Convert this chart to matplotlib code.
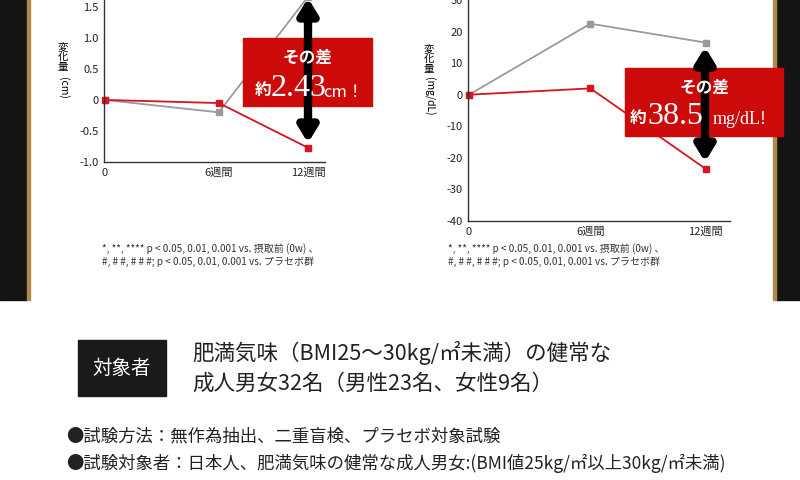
import matplotlib
matplotlib.use("Agg")
import matplotlib.pyplot as plt
from matplotlib.patches import Rectangle

JP = "Noto Sans CJK JP"
SERIF = "Liberation Serif"

# data
cats = ["0", "6週間", "12週間"]
left_x = [0, 6, 10.7]
left_red = [0.0, -0.05, -0.77]
left_gray = [0.0, -0.2, 1.66]
right_x = [0, 6, 11.7]
right_red = [0.0, 2.0, -23.5]
right_gray = [0.0, 22.5, 16.5]
left_yticks = [-1.0, -0.5, 0, 0.5, 1.0, 1.5]
left_yticklabels = ["-1.0", "-0.5", "0", "0.5", "1.0", "1.5"]
right_yticks = [-40, -30, -20, -10, 0, 10, 20, 30]

RED = "#d7141f"
GRAY = "#9a9a9a"
BOXRED = "#cc0a0a"
W, H = 800, 480

fig = plt.figure(figsize=(8, 4.8), dpi=100)

def px_axes(x0, y0, x1, y1, **kw):
    return fig.add_axes([x0 / W, 1 - y1 / H, (x1 - x0) / W, (y1 - y0) / H], **kw)

# background
bg = px_axes(0, 0, W, H)
bg.set_xlim(0, W); bg.set_ylim(H, 0); bg.axis("off")
bg.add_patch(Rectangle((0, 0), 27, 300, color="#141414"))
bg.add_patch(Rectangle((27, 0), 3, 300, color="#b08a4a"))
bg.add_patch(Rectangle((776, 0), 24, 300, color="#141414"))
bg.add_patch(Rectangle((773, 0), 3, 300, color="#b08a4a"))

def chart(x0, x1, ytop, ybot, xs, red, gray, xlim, ylim, yticks, yticklabels):
    ax = px_axes(x0, ytop, x1, ybot)
    ax.set_facecolor("none")
    ax.plot(xs, gray, color=GRAY, marker="s", ms=5, lw=1.3, clip_on=True)
    ax.plot(xs, red, color=RED, marker="s", ms=5, lw=1.3, clip_on=False)
    ax.set_xlim(*xlim); ax.set_ylim(*ylim)
    ax.set_yticks(yticks); ax.set_yticklabels(yticklabels)
    ax.set_xticks(xs); ax.set_xticklabels(cats)
    for s in ("top", "right"):
        ax.spines[s].set_visible(False)
    for s in ("left", "bottom"):
        ax.spines[s].set_color("#333333"); ax.spines[s].set_linewidth(1.0)
    ax.tick_params(length=0, labelsize=8, colors="#222222", pad=4)
    for lab in ax.get_xticklabels() + ax.get_yticklabels():
        lab.set_fontfamily(JP)
    return ax

chart(104, 325, 0, 162, left_x, left_red, left_gray, (-0.05, 11.6), (-1.0, 1.61),
      left_yticks, left_yticklabels)
chart(468, 730, 0, 221, right_x, right_red, right_gray, (-0.05, 12.9), (-40, 29.7),
      right_yticks, [str(v) for v in right_yticks])

ov = px_axes(0, 0, W, H)
ov.set_xlim(0, W); ov.set_ylim(H, 0); ov.axis("off"); ov.patch.set_alpha(0)

# y labels (vertical writing)
ov.text(63, 57, "変\n化\n量", fontfamily=JP, fontsize=7.5, ha="center", va="center", linespacing=0.95)
ov.text(63, 88, "(cm)", fontfamily=JP, fontsize=7.5, ha="center", va="center", rotation=270)
ov.text(429, 59, "変\n化\n量", fontfamily=JP, fontsize=7.5, ha="center", va="center", linespacing=0.95)
ov.text(429, 96, "(mg/dL)", fontfamily=JP, fontsize=7.5, ha="center", va="center", rotation=270)

# arrows
arr = dict(arrowstyle="<|-|>,head_width=0.55,head_length=0.9", lw=6, color="black",
           shrinkA=0, shrinkB=0)
ov.annotate("", xy=(308, 143), xytext=(308, -2), arrowprops=arr)
ov.annotate("", xy=(705, 162), xytext=(705, 47), arrowprops=arr)

# boxes
ov.add_patch(Rectangle((243, 38), 129, 68, color=BOXRED))
ov.text(307, 58, "その差", fontfamily=JP, fontsize=12, color="white", weight="bold", ha="center", va="center")
ov.text(263, 90, "約", fontfamily=JP, fontsize=12, color="white", weight="bold", ha="center", va="center")
ov.text(271, 89, "2.43", fontfamily=SERIF, fontsize=23, color="white", ha="left", va="center")
ov.text(323, 92, "cm！", fontfamily=JP, fontsize=12, color="white", ha="left", va="center")

ov.add_patch(Rectangle((625, 68), 158, 68, color=BOXRED))
ov.text(704, 88, "その差", fontfamily=JP, fontsize=12, color="white", weight="bold", ha="center", va="center")
ov.text(638, 118, "約", fontfamily=JP, fontsize=12, color="white", weight="bold", ha="center", va="center")
ov.text(647, 117, "38.5", fontfamily=SERIF, fontsize=23, color="white", ha="left", va="center")
ov.text(713, 120, "mg/dL!", fontfamily=SERIF, fontsize=13, color="white", ha="left", va="center")

# footnotes
fn = "*, **, **** p < 0.05, 0.01, 0.001 vs. 摂取前 (0w) 、\n#, # #, # # #; p < 0.05, 0.01, 0.001 vs. プラセボ群"
ov.text(102, 255, fn, fontfamily=JP, fontsize=7.2, color="#333333", ha="left", va="center", linespacing=1.25)
ov.text(448, 255, fn, fontfamily=JP, fontsize=7.2, color="#333333", ha="left", va="center", linespacing=1.25)

# subject box
ov.add_patch(Rectangle((78, 340), 88, 56, color="#1a1a1a"))
ov.text(122, 368, "対象者", fontfamily=JP, fontsize=14, color="white", ha="center", va="center")
ov.text(192, 353, "肥満気味（BMI25～30kg/㎡未満）の健常な", fontfamily=JP, fontsize=15.5,
        color="#222222", ha="left", va="center")
ov.text(192, 384, "成人男女32名（男性23名、女性9名）", fontfamily=JP, fontsize=15.5,
        color="#222222", ha="left", va="center")
ov.text(66, 436, "●試験方法：無作為抽出、二重盲検、プラセボ対象試験", fontfamily=JP, fontsize=12.5,
        color="#222222", ha="left", va="center")
ov.text(66, 463, "●試験対象者：日本人、肥満気味の健常な成人男女:(BMI値25kg/㎡以上30kg/㎡未満)",
        fontfamily=JP, fontsize=12.5, color="#222222", ha="left", va="center")

fig.savefig("out.png", dpi=100)
